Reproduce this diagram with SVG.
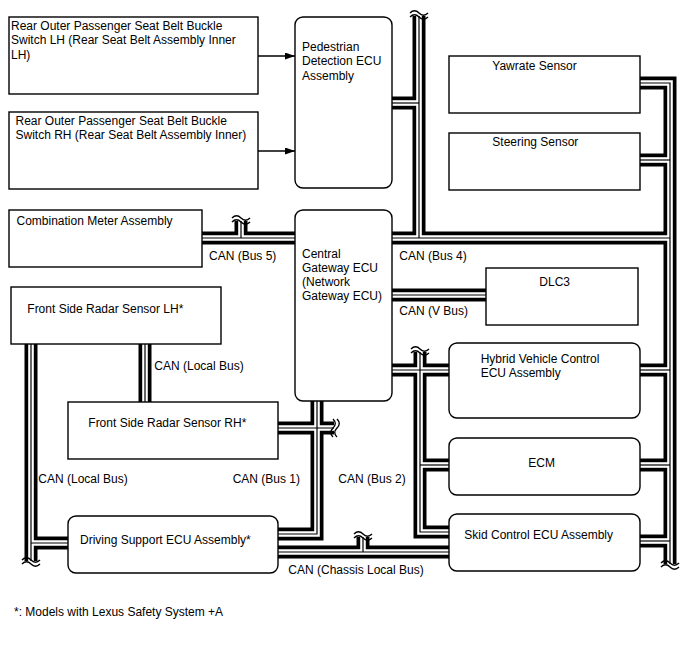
<svg xmlns="http://www.w3.org/2000/svg" width="688" height="658" viewBox="0 0 688 658">
<defs>
<marker id="ah" markerWidth="10" markerHeight="7" refX="10" refY="3.5" orient="auto" markerUnits="userSpaceOnUse"><path d="M0,0 L10,3.5 L0,7 Z" fill="#000"/></marker>
<path id="wv" d="M-9,-2 c3,-3 6,-3 9,0 s6,3 9,0 M-9,2 c3,-3 6,-3 9,0 s6,3 9,0" fill="none" stroke="#000" stroke-width="1.4"/>
<g id="bp">
<path d="M419,16 V238"/>
<path d="M392,103 H419"/>
<path d="M392,238 H670"/>
<path d="M640,83 H670 V564"/>
<path d="M640,160 H670"/>
<path d="M640,370 H670"/>
<path d="M640,465 H670"/>
<path d="M640,541 H670"/>
<path d="M202,238 H295"/>
<path d="M241,238 V221"/>
<path d="M392,295 H486"/>
<path d="M392,370 H449"/>
<path d="M420,352 V532 H449"/>
<path d="M420,465 H449"/>
<path d="M317,401 V534 H278"/>
<path d="M278,428 H334"/>
<path d="M278,552 H449"/>
<path d="M363,552 V537"/>
<path d="M31,344 V561"/>
<path d="M31,543 H68"/>
<path d="M145,344 V402"/>
</g>
</defs>
<style>
text{font-family:"Liberation Sans",Arial,Helvetica,sans-serif;font-size:12px;fill:#000}
.box{fill:#fff;stroke:#000;stroke-width:1.4}
.b1{fill:none;stroke:#000;stroke-width:13;stroke-linejoin:miter}
.b2{fill:none;stroke:#fff;stroke-width:5.6;stroke-linejoin:miter}
.b3{fill:none;stroke:#000;stroke-width:1.2}
.arr{stroke:#000;stroke-width:1.4;fill:none}
</style>
<rect width="688" height="658" fill="#fff"/>
<g id="connectors">
<use href="#bp" class="b1"/>
<use href="#bp" class="b2"/>
<use href="#bp" class="b3"/>
<use href="#wv" transform="translate(419,15)"/>
<use href="#wv" transform="translate(241,220)"/>
<use href="#wv" transform="translate(420,351)"/>
<use href="#wv" transform="translate(363,536)"/>
<use href="#wv" transform="translate(670,565)"/>
<use href="#wv" transform="translate(31,562)"/>
<use href="#wv" transform="translate(335,428) rotate(90)"/>
<path class="arr" d="M258,56 H295" marker-end="url(#ah)"/>
<path class="arr" d="M258,151 H295" marker-end="url(#ah)"/>
</g>
<g id="rear-lh"><rect class="box" x="9" y="17" width="249" height="77"/>
<text x="11" y="30">Rear Outer Passenger Seat Belt Buckle</text>
<text x="11" y="44.4">Switch LH (Rear Seat Belt Assembly Inner</text>
<text x="11" y="58.8">LH)</text></g>
<g id="rear-rh"><rect class="box" x="9" y="112" width="249" height="77"/>
<text x="15.5" y="124.8">Rear Outer Passenger Seat Belt Buckle</text>
<text x="15.5" y="139.2">Switch RH (Rear Seat Belt Assembly Inner)</text></g>
<g id="pedestrian"><rect class="box" x="295" y="17" width="97" height="171" rx="8"/>
<text x="302" y="51">Pedestrian</text>
<text x="302" y="65.3">Detection ECU</text>
<text x="302" y="79.6">Assembly</text></g>
<g id="combination"><rect class="box" x="9" y="210" width="193" height="57"/>
<text x="16.5" y="225.3">Combination Meter Assembly</text></g>
<g id="gateway"><rect class="box" x="295" y="210" width="97" height="191" rx="8"/>
<text x="302" y="258">Central</text>
<text x="302" y="272">Gateway ECU</text>
<text x="302" y="286">(Network</text>
<text x="302" y="300">Gateway ECU)</text></g>
<g id="radar-lh"><rect class="box" x="11" y="287" width="210" height="57"/>
<text x="27.3" y="312.6">Front Side Radar Sensor LH*</text></g>
<g id="radar-rh"><rect class="box" x="68" y="402" width="210" height="57"/>
<text x="88.3" y="427">Front Side Radar Sensor RH*</text></g>
<g id="driving"><rect class="box" x="68" y="516" width="210" height="57" rx="8"/>
<text x="80" y="543.6">Driving Support ECU Assembly*</text></g>
<g id="yawrate"><rect class="box" x="449" y="56" width="191" height="57"/>
<text x="492.3" y="69.6">Yawrate Sensor</text></g>
<g id="steering"><rect class="box" x="449" y="133" width="191" height="57"/>
<text x="492.3" y="146.3">Steering Sensor</text></g>
<g id="dlc3"><rect class="box" x="486" y="268" width="152" height="57"/>
<text x="539.3" y="286">DLC3</text></g>
<g id="hybrid"><rect class="box" x="449" y="343" width="191" height="75" rx="8"/>
<text x="480.7" y="363">Hybrid Vehicle Control</text>
<text x="480.7" y="377">ECU Assembly</text></g>
<g id="ecm"><rect class="box" x="449" y="438" width="191" height="57" rx="8"/>
<text x="528.3" y="467">ECM</text></g>
<g id="skid"><rect class="box" x="449" y="514" width="191" height="57" rx="8"/>
<text x="464.3" y="539.3">Skid Control ECU Assembly</text></g>
<g id="labels">
<text x="209" y="260.3">CAN (Bus 5)</text>
<text x="399.3" y="260">CAN (Bus 4)</text>
<text x="399.3" y="314.6">CAN (V Bus)</text>
<text x="154.3" y="370.3">CAN (Local Bus)</text>
<text x="38.3" y="482.6">CAN (Local Bus)</text>
<text x="232.7" y="482.6">CAN (Bus 1)</text>
<text x="338.3" y="482.6">CAN (Bus 2)</text>
<text x="288.3" y="573.6">CAN (Chassis Local Bus)</text>
<text x="14" y="616">*: Models with Lexus Safety System +A</text>
</g>
</svg>
